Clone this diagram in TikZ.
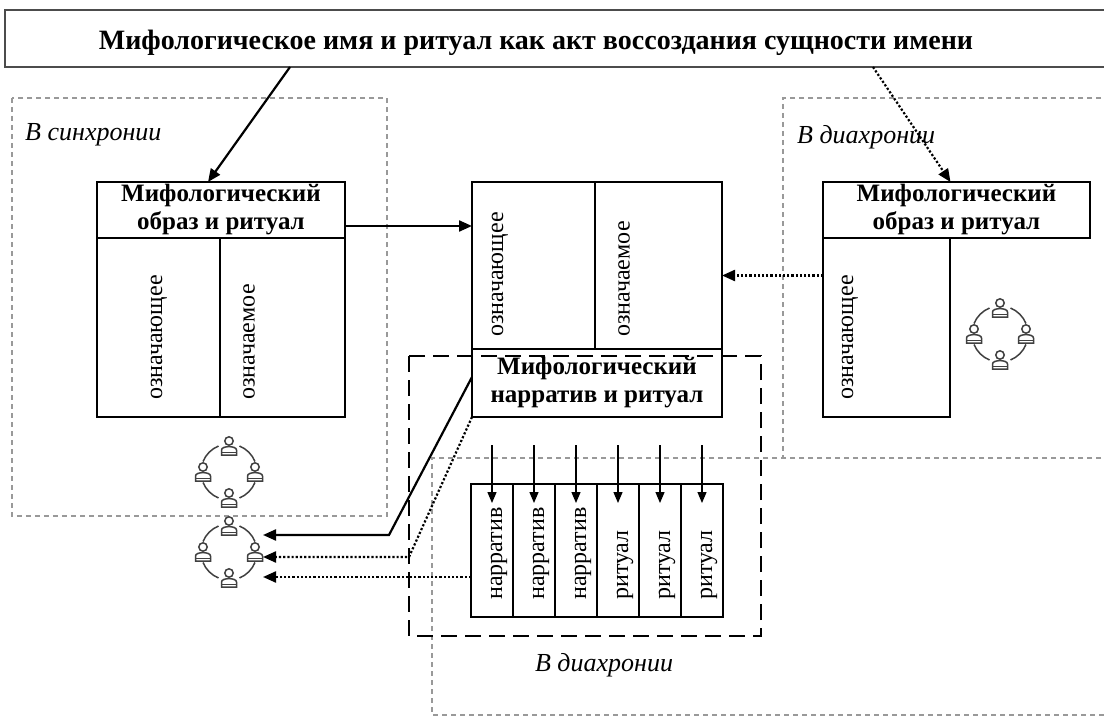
\documentclass[tikz,border=0pt]{standalone}
\usepackage{fontspec}
\setmainfont{Liberation Serif}
\usetikzlibrary{arrows.meta,positioning}

\tikzset{
  person/.pic={
    \draw (0pt,5pt) circle (4.2pt);
    \draw (-7.5pt,-9pt) -- (-7.5pt,-4pt) .. controls (-7.5pt,0.5pt) and (7.5pt,0.5pt) .. (7.5pt,-4pt) -- (7.5pt,-9pt) -- cycle;
    \draw (-7.5pt,-6.5pt) -- (7.5pt,-6.5pt);
  },
  crowd/.pic={
    \begin{scope}[line width=1.5pt, draw=black!75]
    \foreach \ang in {22,112,202,292}
      \draw (\ang:28pt) arc (\ang:\ang+46:28pt);
    \foreach \ang in {0,90,180,270}
      \pic at (\ang:26pt) {person};
    \end{scope}
  }
}

\begin{document}
\begin{tikzpicture}[x=1pt,y=-1pt,
  cell/.style={draw, line width=1.2pt, inner sep=0pt, outer sep=0pt, anchor=north west},
  headbox/.style={cell, align=center, font=\bfseries\fontsize{25}{28}\selectfont},
  vtext/.style={rotate=90, anchor=west, inner sep=0pt, font=\fontsize{24}{26}\selectfont},
  zone/.style={draw=gray!80, line width=1.2pt, dash pattern=on 5pt off 4pt},
  frame/.style={draw, line width=1.8pt, dash pattern=on 16pt off 8pt},
  conn/.style={line width=2.2pt, -{Triangle[length=13pt,width=11pt]}},
  dotconn/.style={conn, dotted},
  downarr/.style={line width=1.3pt, -{Triangle[length=11pt,width=9pt]}},
  zonelabel/.style={font=\itshape\fontsize{26}{28}\selectfont, inner sep=0pt}
]
\fill[white] (0,0) rectangle (1104,717);
\useasboundingbox (0,0) rectangle (1104,717);

% zones
\draw[zone] (12,98) rectangle (387,516);
\draw[zone] (1110,98) -- (783,98) -- (783,458);
\draw[zone] (1110,458) -- (432,458) -- (432,715) -- (1110,715);

% title
\node[cell, draw=gray!60!black, line width=2pt, minimum width=1110pt, minimum height=57pt] (title) at (5,10) {};
\node[font=\bfseries\fontsize{28}{30}\selectfont] (titletext) at (536,43) {Мифологическое имя и ритуал как акт воссоздания сущности имени};

% synchrony
\node[zonelabel, anchor=west] (synlabel) at (25,135) {В синхронии};
\node[headbox, minimum width=248pt, minimum height=56pt] (imgL) at (97,182) {Мифологический\\образ и ритуал};
\node[cell, minimum width=123pt, minimum height=179pt] (sigL) at (imgL.south west) {};
\node[cell, minimum width=125pt, minimum height=179pt] (sdL) at (sigL.north east) {};
\node[vtext] at ([xshift=62pt,yshift=17pt]sigL.south west) {означающее};
\node[vtext] at ([xshift=29pt,yshift=17pt]sdL.south west) {означаемое};
\pic at (229,472) {crowd};

% centre
\node[cell, minimum width=123pt, minimum height=167pt] (sigC) at (472,182) {};
\node[cell, minimum width=127pt, minimum height=167pt] (sdC) at (sigC.north east) {};
\node[headbox, minimum width=250pt, minimum height=68pt] (narC) at (sigC.south west) {Мифологический\\нарратив и ритуал};
\node[vtext] at ([xshift=28pt,yshift=12pt]sigC.south west) {означающее};
\node[vtext] at ([xshift=29pt,yshift=12pt]sdC.south west) {означаемое};

% diachrony
\node[zonelabel, anchor=west] (dialabel) at (797,137) {В диахронии};
\node[headbox, minimum width=267pt, minimum height=56pt] (imgR) at (823,182) {Мифологический\\образ и ритуал};
\node[cell, minimum width=127pt, minimum height=179pt] (sigR) at (imgR.south west) {};
\node[vtext] at ([xshift=27pt,yshift=17pt]sigR.south west) {означающее};
\pic at (1000,334) {crowd};

% narrative columns
\foreach \i/\w in {1/нарратив,2/нарратив,3/нарратив,4/ритуал,5/ритуал,6/ритуал} {
  \node[cell, minimum width=42pt, minimum height=133pt] (col\i) at ({471+42*(\i-1)},484) {};
  \node[vtext] at ([xshift=7pt,yshift=17pt]col\i.south) {\w};
  \draw[downarr] ([yshift=39pt]col\i.north) -- ([yshift=-19pt]col\i.north);
}
\draw[frame] (409,356) rectangle (761,636);
\node[zonelabel] (dialabelB) at (604,665) {В диахронии};

% group below
\pic at (229,552) {crowd};
\coordinate (inA) at (263,535);
\coordinate (inB) at (263,557);
\coordinate (inC) at (263,577);
\coordinate (bendA) at (389,535);
\coordinate (bendB) at (409,557);
\coordinate (outL) at ([yshift=-16pt]imgL.east);
\coordinate (outR) at ([yshift=52pt]sigR.west);

% connectors
\draw[conn] ([xshift=285pt]title.south west) -- ([xshift=-13pt]imgL.north);
\draw[dotconn] ([xshift=868pt]title.south west) -- ([xshift=-6pt]imgR.north);
\draw[conn] (outL) -- (outL -| sigC.west);
\draw[dotconn] (outR) -- (outR -| sdC.east);
\draw[conn] ([yshift=6pt]narC.west) -- (bendA) -- (inA);
\draw[dotconn] (narC.south west) -- (bendB) -- (inB);
\draw[dotconn] (col1.west |- inC) -- (inC);
\end{tikzpicture}
\end{document}
